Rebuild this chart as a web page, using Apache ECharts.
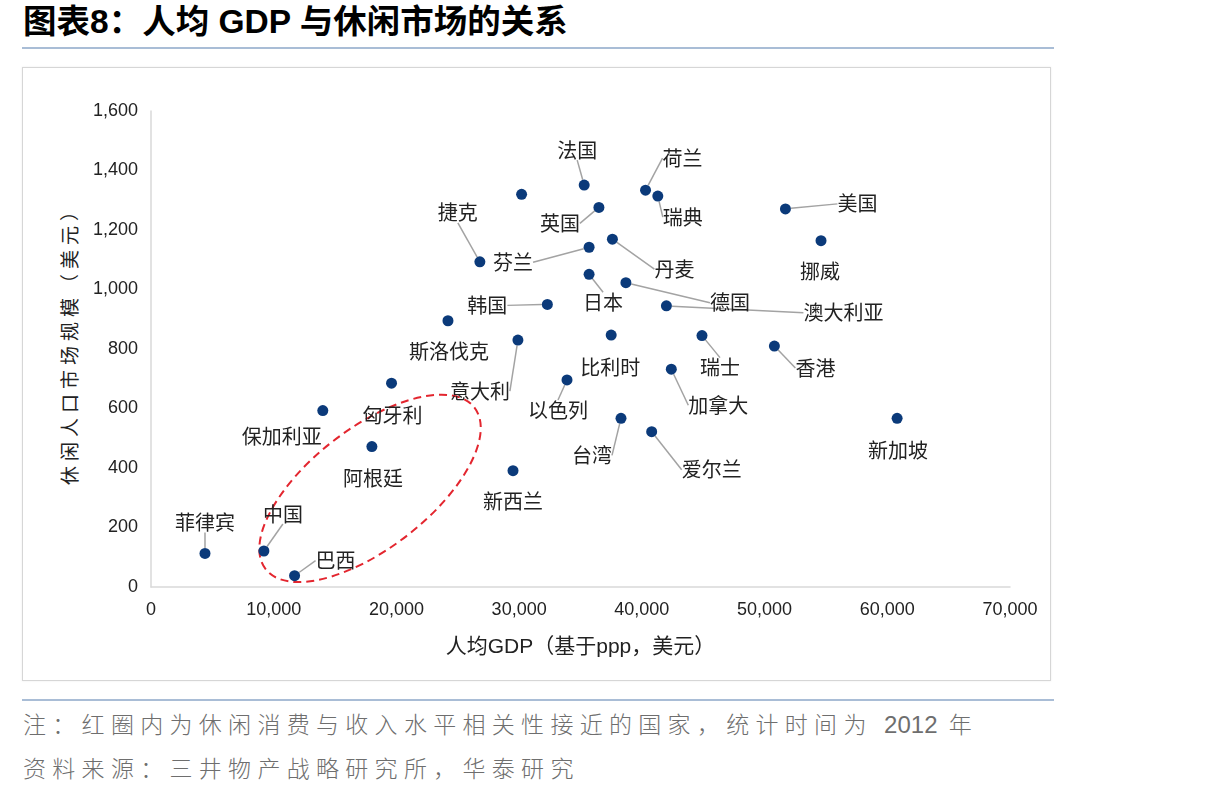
<!DOCTYPE html>
<html>
<head>
<meta charset="utf-8">
<script src="https://cdn.jsdelivr.net/npm/echarts@6/dist/echarts.min.js"></script>
<style>
  html, body { margin: 0; padding: 0; background: #fff; }
  body { width: 1206px; height: 797px; position: relative; overflow: hidden;
         font-family: "Liberation Sans", "Noto Sans CJK SC", sans-serif; }
  .title { position: absolute; left: 23px; top: 5px; font-size: 33.5px; line-height: 34px; font-weight: bold; color: #000;
           white-space: nowrap; }
  .rule { position: absolute; left: 22px; width: 1032px; height: 2px; background: #a9bdd6; }
  .box { position: absolute; left: 22px; top: 67px; width: 1027px; height: 612px;
         border: 1px solid #d6d6d6; box-shadow: 0 0 2px rgba(0,0,0,0.08); }
  .note { position: absolute; left: 23px; font-size: 23px; line-height: 23px; color: #6e6e6e; letter-spacing: 6.3px;
          font-family: "Noto Sans CJK SC", sans-serif; font-weight: 300; white-space: nowrap; }
  .note .num { font-family: "Liberation Sans", sans-serif; letter-spacing: 0; font-size: 24px; }
  .yname { position: absolute; left: 68px; top: 341px; transform: translate(-50%, -50%) rotate(-90deg);
           font-family: "Noto Sans CJK SC", sans-serif; font-size: 19px; letter-spacing: 5px; color: #222;
           white-space: nowrap; line-height: 19px; }
  #chart { position: absolute; left: 0; top: 0; width: 1206px; height: 797px; }
</style>
</head>
<body>
<div class="title">图表8：人均 GDP 与休闲市场的关系</div>
<div class="rule" style="top:47px"></div>
<div class="box"></div>
<div class="rule" style="top:699px"></div>
<div class="note" style="top:712px">注：红圈内为休闲消费与收入水平相关性接近的国家，统计时间为 <span class="num">2012</span> 年</div>
<div class="note" style="top:756px">资料来源：三井物产战略研究所，华泰研究</div>
<div class="yname">休闲人口市场规模（美元）</div>
<div id="chart"></div>
<script>
// values: GDP per capita (PPP, USD) vs leisure market per head (USD)
const countries = ['法国', '英国', '', '荷兰', '瑞典', '美国', '挪威', '丹麦', '芬兰', '捷克',
  '日本', '德国', '澳大利亚', '韩国', '斯洛伐克', '意大利', '比利时', '瑞士', '香港', '加拿大',
  '以色列', '台湾', '爱尔兰', '新加坡', '新西兰', '匈牙利', '保加利亚', '阿根廷', '菲律宾', '中国', '巴西']
const gdp = [35300, 36500, 30200, 40300, 41300, 51700, 54600, 37600, 35700, 26800,
  35700, 38700, 42000, 32300, 24200, 29900, 37500, 44900, 50800, 42400,
  33900, 38300, 40800, 60800, 29500, 19600, 14000, 18000, 4400, 9200, 11700]
const leisure = [1351, 1276, 1320, 1334, 1314, 1271, 1164, 1169, 1142, 1093,
  1051, 1023, 945, 950, 895, 830, 847, 845, 810, 732,
  696, 567, 522, 567, 391, 685, 593, 472, 113, 121, 38]

// label placement: offset of label centre from the point (px), and whether a leader line is drawn
const labelDx = [-7, -39, 0, 37, 25, 72, -1, 62, -76, -22,
  14, 104, 177, -60, 1, -38, -1, 18, 41, 47,
  -9, -29, 60, 1, 0, 1, -41, 1, 0, 19, 41]
const labelDy = [-35, 16, 0, -32, 21, -5, 31, 30, 15, -49,
  28, 20, 7, 1, 31, 51, 32, 32, 22, 36,
  30, 37, 38, 32, 31, 32, 26, 32, -31, -37, -15]
const leader = [1, 1, 0, 1, 1, 1, 0, 1, 1, 1,
  1, 1, 1, 1, 0, 1, 0, 1, 1, 1,
  1, 1, 1, 0, 0, 0, 0, 0, 1, 1, 1]

// red dashed ring: its two ends in data space
const ringEnds = [[9340, 60, 26360, 603]]

const xTicks = { min: 0, max: 70000, interval: 10000 }
const yTicks = { min: 0, max: 1600, interval: 200 }

const chart = echarts.init(document.getElementById('chart'), null, { renderer: 'canvas' })

const points = countries.map((name, i) => ({
  name,
  value: [gdp[i], leisure[i]],
  label: { show: name !== '' },
  labelLine: { show: !!leader[i] },
}))

const axisLabel = { color: '#222', fontSize: 18, fontFamily: 'Liberation Sans' }
const axisLine = { show: true, lineStyle: { color: '#d9d9d9', width: 1.5 } }

chart.setOption({
  animation: false,
  grid: { left: 151, right: 196, top: 111, bottom: 210 },
  xAxis: {
    type: 'value', ...xTicks,
    name: '人均GDP（基于ppp，美元）', nameLocation: 'middle', nameGap: 50,
    nameTextStyle: { color: '#222', fontSize: 21, fontFamily: 'Liberation Sans, Noto Sans CJK SC' },
    axisLine, axisTick: { show: false }, splitLine: { show: false },
    axisLabel: { ...axisLabel, margin: 14, formatter: v => v.toLocaleString('en-US') },
  },
  yAxis: {
    type: 'value', ...yTicks,
    axisLine, axisTick: { show: false }, splitLine: { show: false },
    axisLabel: { ...axisLabel, margin: 13, formatter: v => v.toLocaleString('en-US') },
  },
  series: [
    {
      type: 'scatter',
      data: points,
      symbolSize: 11,
      itemStyle: { color: '#0b3a7a', opacity: 1 },
      label: {
        position: 'inside', formatter: '{b}', color: '#222',
        fontSize: 20, fontFamily: 'Noto Sans CJK SC', align: 'center', verticalAlign: 'middle',
      },
      labelLine: { show: true, lineStyle: { color: '#a3a3a3', width: 1.5 } },
      labelLayout: p => ({ dx: labelDx[p.dataIndex], dy: labelDy[p.dataIndex], hideOverlap: false }),
      z: 3,
    },
    {
      type: 'custom',
      silent: true,
      clip: false,
      data: ringEnds,
      encode: { x: [0, 2], y: [1, 3] },
      renderItem: (params, api) => {
        const p1 = api.coord([api.value(0), api.value(1)])
        const p2 = api.coord([api.value(2), api.value(3)])
        const cx = (p1[0] + p2[0]) / 2
        const cy = (p1[1] + p2[1]) / 2
        const rx = Math.hypot(p2[0] - p1[0], p2[1] - p1[1]) / 2
        return {
          type: 'ellipse',
          x: cx, y: cy,
          rotation: Math.atan2(p1[1] - p2[1], p2[0] - p1[0]),
          shape: { cx: 0, cy: 0, rx, ry: 60 },
          style: { fill: 'none', stroke: '#e3262f', lineWidth: 2, lineDash: [8, 5] },
        }
      },
      z: 2,
    },
  ],
})
</script>
</body>
</html>
